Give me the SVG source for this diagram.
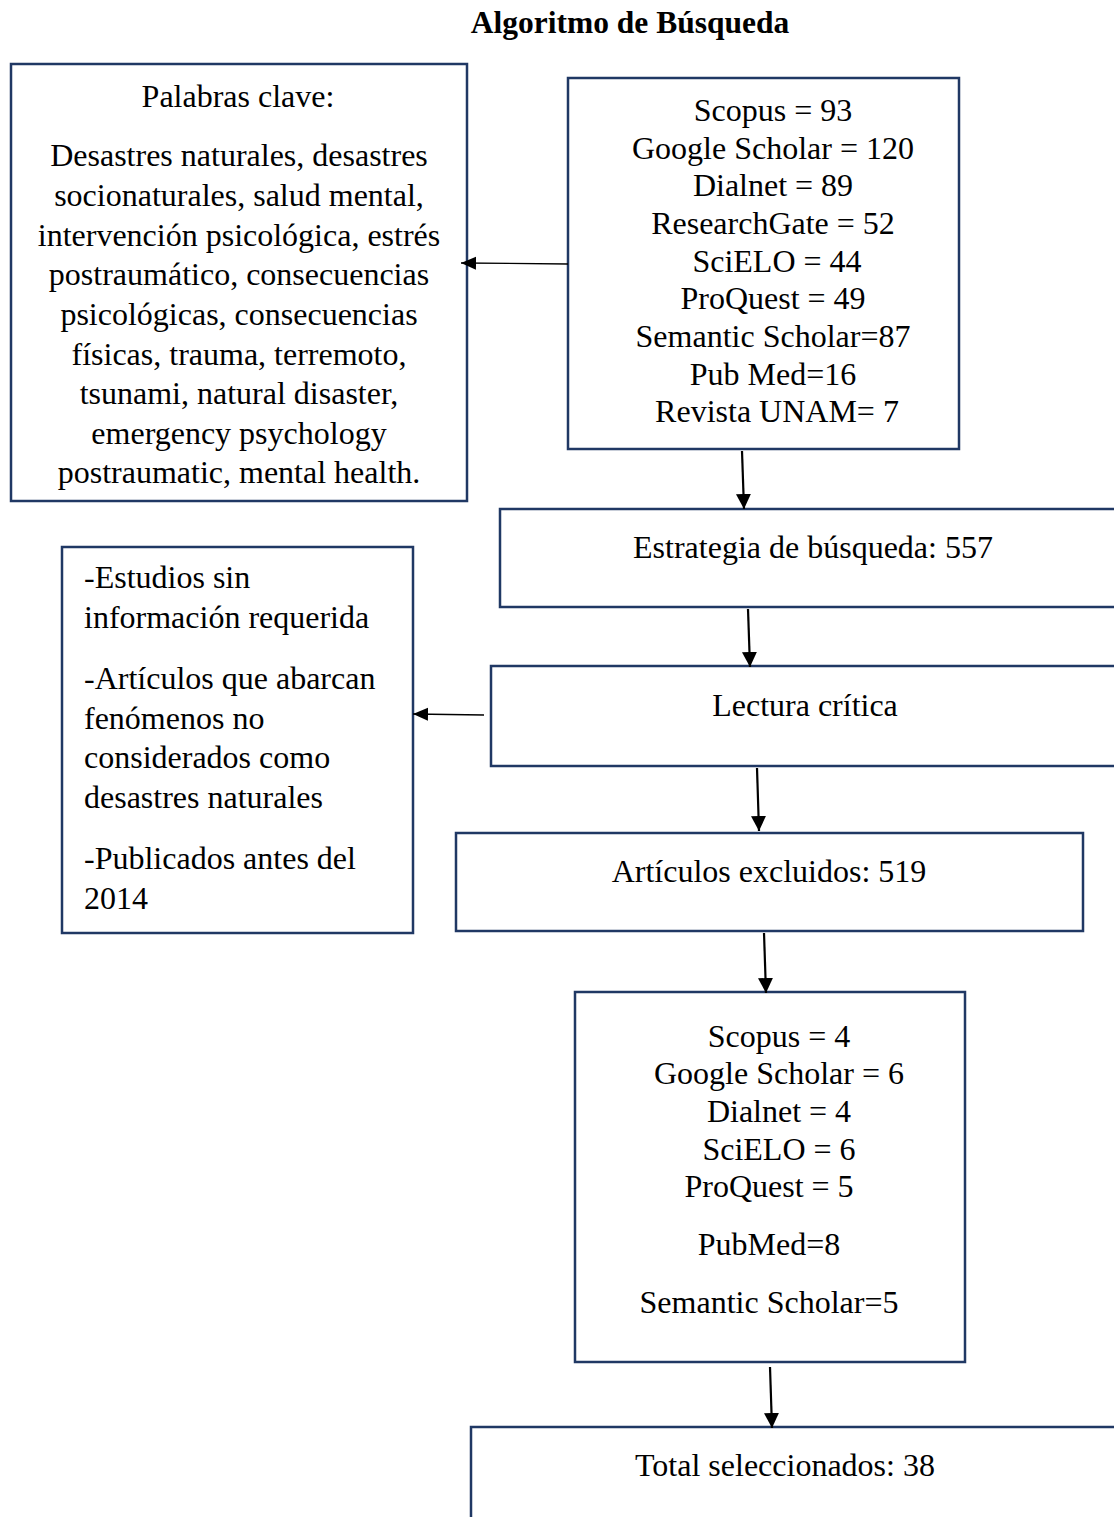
<svg xmlns="http://www.w3.org/2000/svg" width="1114" height="1517" viewBox="0 0 1114 1517">
<defs>
<style>
.box{fill:#fff;stroke:#203864;stroke-width:2.5}
.t{font-family:"Liberation Serif","Times New Roman",serif;font-size:32px;fill:#000}
.c{text-anchor:middle}
.title{font-family:"Liberation Serif","Times New Roman",serif;font-size:31.5px;font-weight:bold;text-anchor:middle;fill:#000}
.a{stroke:#000;stroke-width:2.2;fill:none}
.ah{stroke:#000;stroke-width:1.3;fill:none}
</style>
<marker id="arr" markerUnits="userSpaceOnUse" markerWidth="16" markerHeight="16" refX="15" refY="8" orient="auto"><path d="M0,0.5 L15,8 L0,15.5 Z" fill="#000"/></marker>
<marker id="arrs" markerUnits="userSpaceOnUse" markerWidth="16" markerHeight="14" refX="15" refY="7" orient="auto"><path d="M0,0.5 L15,7 L0,13.5 Z" fill="#000"/></marker>
</defs>
<rect width="1114" height="1517" fill="#fff"/>
<text class="title" x="630" y="33">Algoritmo de Búsqueda</text>
<g id="keywords">
<rect class="box" x="11" y="64" width="456" height="437"/>
<text class="t c" x="238" y="107">Palabras clave:</text>
<text class="t c" x="239" y="166">Desastres naturales, desastres</text>
<text class="t c" x="239" y="206">socionaturales, salud mental,</text>
<text class="t c" x="239" y="246">intervención psicológica, estrés</text>
<text class="t c" x="239" y="285">postraumático, consecuencias</text>
<text class="t c" x="239" y="325">psicológicas, consecuencias</text>
<text class="t c" x="239" y="365">físicas, trauma, terremoto,</text>
<text class="t c" x="239" y="404">tsunami, natural disaster,</text>
<text class="t c" x="239" y="444">emergency psychology</text>
<text class="t c" x="239" y="483">postraumatic, mental health.</text>
</g>
<g id="sources">
<rect class="box" x="568" y="78" width="391" height="371"/>
<text class="t c" x="773" y="121">Scopus = 93</text>
<text class="t c" x="773" y="159">Google Scholar = 120</text>
<text class="t c" x="773" y="196">Dialnet = 89</text>
<text class="t c" x="773" y="234">ResearchGate = 52</text>
<text class="t c" x="777" y="272">SciELO = 44</text>
<text class="t c" x="773" y="309">ProQuest = 49</text>
<text class="t c" x="773" y="347">Semantic Scholar=87</text>
<text class="t c" x="773" y="385">Pub Med=16</text>
<text class="t c" x="777" y="422">Revista UNAM= 7</text>
</g>
<g id="estrategia">
<rect class="box" x="500" y="509" width="630" height="98"/>
<text class="t c" x="813" y="558">Estrategia de búsqueda: 557</text>
</g>
<g id="lectura">
<rect class="box" x="491" y="666" width="640" height="100"/>
<text class="t c" x="805" y="716">Lectura crítica</text>
</g>
<g id="exclusion">
<rect class="box" x="62" y="547" width="351" height="386"/>
<text class="t" x="84" y="588">-Estudios sin</text>
<text class="t" x="84" y="628">información requerida</text>
<text class="t" x="84" y="689">-Artículos que abarcan</text>
<text class="t" x="84" y="729">fenómenos no</text>
<text class="t" x="84" y="768">considerados como</text>
<text class="t" x="84" y="808">desastres naturales</text>
<text class="t" x="84" y="869">-Publicados antes del</text>
<text class="t" x="84" y="909">2014</text>
</g>
<g id="excluidos">
<rect class="box" x="456" y="833" width="627" height="98"/>
<text class="t c" x="769" y="882">Artículos excluidos: 519</text>
</g>
<g id="selected">
<rect class="box" x="575" y="992" width="390" height="370"/>
<text class="t c" x="779" y="1047">Scopus = 4</text>
<text class="t c" x="779" y="1084">Google Scholar = 6</text>
<text class="t c" x="779" y="1122">Dialnet = 4</text>
<text class="t c" x="779" y="1160">SciELO = 6</text>
<text class="t c" x="769" y="1197">ProQuest = 5</text>
<text class="t c" x="769" y="1255">PubMed=8</text>
<text class="t c" x="769" y="1313">Semantic Scholar=5</text>
</g>
<g id="total">
<rect class="box" x="471" y="1427" width="656" height="120"/>
<text class="t c" x="785" y="1476">Total seleccionados: 38</text>
</g>
<g id="connectors">
<line class="ah" x1="568" y1="264" x2="461" y2="263" marker-end="url(#arrs)"/>
<line class="a" x1="742" y1="451" x2="744" y2="509" marker-end="url(#arr)"/>
<line class="a" x1="748" y1="609" x2="750" y2="667" marker-end="url(#arr)"/>
<line class="ah" x1="484" y1="715" x2="413" y2="714" marker-end="url(#arrs)"/>
<line class="a" x1="757" y1="768" x2="759" y2="831" marker-end="url(#arr)"/>
<line class="a" x1="764" y1="933" x2="766" y2="993" marker-end="url(#arr)"/>
<line class="a" x1="770" y1="1367" x2="772" y2="1428" marker-end="url(#arr)"/>
</g>
</svg>
